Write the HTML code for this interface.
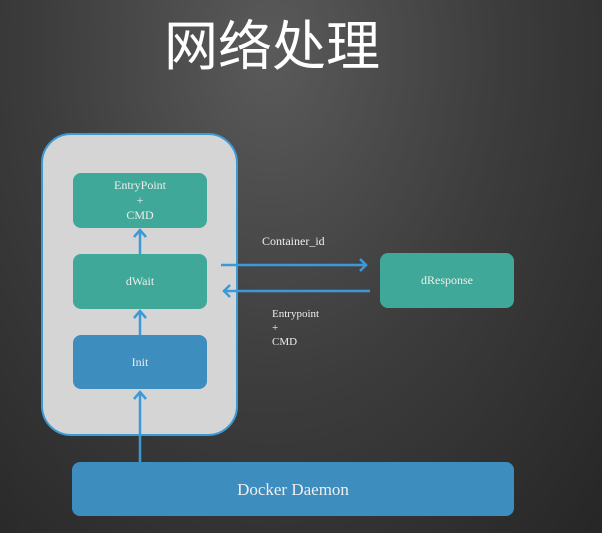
<!DOCTYPE html><html><head><meta charset="utf-8"><style>
body{margin:0;width:602px;height:533px;overflow:hidden;background:radial-gradient(ellipse at 45% 10%,#5a5a5a 0%,#3c3c3c 50%,#262626 100%);font-family:"Liberation Serif",serif;position:relative}
.b{position:absolute;color:#eee;display:flex;align-items:center;justify-content:center;text-align:center;border-radius:8px;font-size:12px;line-height:15px}
.t{background:#40a898}.u{background:#3d8dbf}
.l{position:absolute;color:#eee;font-size:11px;line-height:14px}
</style></head><body>
<div style="position:absolute;left:0;width:544px;top:6px;text-align:center;color:#fff;font-size:54px;font-family:'Noto Sans CJK SC',sans-serif;line-height:72px">网络处理</div>
<div style="position:absolute;left:41px;top:133px;width:193px;height:299px;background:#d5d5d5;border:2px solid #3b9ad6;border-radius:30px"></div>
<div class="b t" style="left:73px;top:173px;width:134px;height:55px">EntryPoint<br>+<br>CMD</div>
<div class="b t" style="left:73px;top:254px;width:134px;height:55px">dWait</div>
<div class="b u" style="left:73px;top:335px;width:134px;height:54px">Init</div>
<div class="b t" style="left:380px;top:253px;width:134px;height:55px">dResponse</div>
<div class="b u" style="left:72px;top:462px;width:442px;height:54px;font-size:17px">Docker Daemon</div>
<div class="l" style="left:262px;top:234px;font-size:12px">Container_id</div>
<div class="l" style="left:272px;top:307px">Entrypoint<br>+<br>CMD</div>
<svg width="602" height="533" style="position:absolute;left:0;top:0" fill="none" stroke="#3a9ad9" stroke-width="2.5">
<path d="M140 462V392M134 399l6-7 6 7M140 335V311M134 318l6-7 6 7M140 254V230M134 237l6-7 6 7M221 265H366M360 259l6 6-6 6M370 291H224M230 285l-6 6 6 6"/>
</svg>
</body></html>
